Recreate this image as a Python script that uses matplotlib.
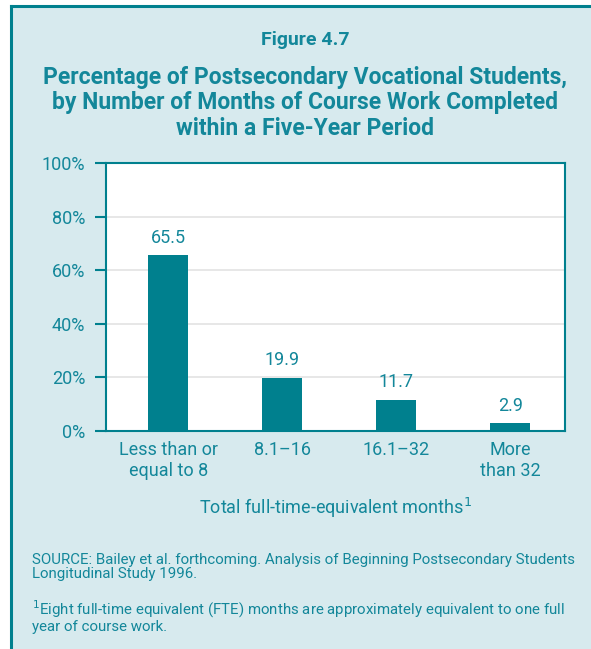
import matplotlib.pyplot as plt
from matplotlib.lines import Line2D

# data
categories = ['Less than or\nequal to 8', '8.1\u201316', '16.1\u201332', 'More\nthan 32']
values = [65.5, 19.9, 11.7, 2.9]
yticks = [0, 20, 40, 60, 80, 100]

teal = '#00808e'
text_c = '#13879a'
bg = '#d7eaee'

plt.rcParams['font.family'] = ['Roboto', 'DejaVu Sans']

fig = plt.figure(figsize=(5.91, 6.49), dpi=100)
fig.patch.set_facecolor('white')

# background panel with teal frame on top and left
fig.patches.append(plt.Rectangle((11 / 591, 0), 1, 1 - 6 / 649, transform=fig.transFigure,
                                 facecolor=bg, edgecolor='none', zorder=-5))
fig.lines.append(Line2D([11 / 591, 11 / 591], [0, 1 - 6 / 649], transform=fig.transFigure,
                        color=teal, lw=2.2, zorder=-4))
fig.lines.append(Line2D([11 / 591, 1], [1 - 6 / 649, 1 - 6 / 649], transform=fig.transFigure,
                        color=teal, lw=2.2, zorder=-4))

ax = fig.add_axes([106 / 591, 1 - 431 / 649, 459 / 591, 268 / 649])
ax.set_facecolor('white')
x = list(range(len(categories)))
ax.bar(x, values, width=0.35, color=teal, zorder=3)
for xi, v in zip(x, values):
    ax.annotate(f'{v}', (xi, v), xytext=(0, 6), textcoords='offset points',
                ha='center', va='bottom', fontsize=13, color=text_c)

ax.set_xlim(-0.545, 3.48)
ax.set_ylim(0, 100)
ax.set_yticks(yticks)
ax.set_yticklabels([f'{t}%' for t in yticks])
ax.yaxis.grid(True, color='#e3e3e3', lw=1.2, zorder=0)
ax.set_xticks(x)
ax.set_xticklabels(categories)
ax.tick_params(axis='x', length=0, pad=7, labelsize=13, labelcolor=text_c)
ax.tick_params(axis='y', length=8, width=1.5, color=teal, pad=7, labelsize=13, labelcolor=text_c)
for s in ax.spines.values():
    s.set_color(teal)
    s.set_linewidth(1.5)
ax.set_xlabel('Total full-time-equivalent months$^{1}$', fontsize=13, color=text_c, labelpad=12)

fig.text(305 / 591, 1 - 40 / 649, 'Figure 4.7', ha='center', va='center',
         fontsize=14, fontweight='bold', color=text_c)
fig.text(305 / 591, 1 - 103 / 649,
         'Percentage of Postsecondary Vocational Students,\n'
         'by Number of Months of Course Work Completed\n'
         'within a Five-Year Period',
         ha='center', va='center', fontsize=16.5, fontweight='bold', color=text_c,
         linespacing=1.15)

fig.text(32 / 591, 1 - 567 / 649,
         'SOURCE: Bailey et al. forthcoming. Analysis of Beginning Postsecondary Students\n'
         'Longitudinal Study 1996.',
         ha='left', va='center', fontsize=10.8, color=text_c, linespacing=1.0)
fig.text(32 / 591, 1 - 616 / 649,
         '$^{1}$Eight full-time equivalent (FTE) months are approximately equivalent to one full\n'
         'year of course work.',
         ha='left', va='center', fontsize=10.8, color=text_c, linespacing=1.0)

fig.savefig('out.png', dpi=100, facecolor=fig.get_facecolor())
